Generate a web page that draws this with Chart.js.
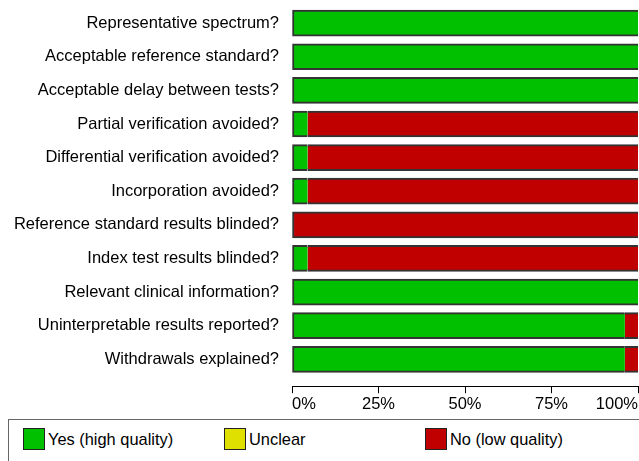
<!DOCTYPE html>
<html lang="en">

<head>
    <meta charset="UTF-8">
    <title>Methodological quality graph</title>
    <script src="https://cdn.jsdelivr.net/npm/chart.js"></script>
    <style>
        body {
            margin: 0;
            background: #fff;
            overflow: hidden;
            font-family: "Liberation Sans", Arial, sans-serif;
        }

        .wrap {
            position: relative;
            width: 639px;
            height: 461px;
        }

        #qualityChart {
            position: absolute;
            left: 0;
            top: 0;
        }

        .legend {
            position: absolute;
            left: 8px;
            top: 419px;
            width: 660px;
            height: 60px;
            border: 1px solid #666;
            box-sizing: border-box;
        }

        .legend-item {
            position: absolute;
            top: 8px;
            display: flex;
            align-items: center;
            font-size: 16.4px;
            color: #000;
        }

        .legend-box {
            width: 20px;
            height: 20px;
            border: 1px solid #222;
            margin-right: 3px;
        }
    </style>
</head>

<body>
    <div class="wrap">
        <canvas id="qualityChart" width="639" height="419"></canvas>
        <div class="legend" id="legend"></div>
    </div>

    <script>
        const categories = [
            'Representative spectrum?',
            'Acceptable reference standard?',
            'Acceptable delay between tests?',
            'Partial verification avoided?',
            'Differential verification avoided?',
            'Incorporation avoided?',
            'Reference standard results blinded?',
            'Index test results blinded?',
            'Relevant clinical information?',
            'Uninterpretable results reported?',
            'Withdrawals explained?'
        ];
        const yesValues = [100, 100, 100, 4.5, 4.5, 4.5, 0, 4.5, 100, 96.2, 96.2];
        const unclearValues = [0, 0, 0, 0, 0, 0, 0, 0, 0, 0, 0];
        const noValues = [0, 0, 0, 95.5, 95.5, 95.5, 100, 95.5, 0, 3.8, 3.8];
        const xTicks = [0, 25, 50, 75, 100];

        const seriesNames = ['Yes (high quality)', 'Unclear', 'No (low quality)'];
        const seriesColors = ['#00c000', '#e0e000', '#c00000'];
        const legendLeft = [14, 215, 416];

        const allSeries = [yesValues, unclearValues, noValues];
        const font = { family: '"Liberation Sans", Arial, sans-serif', size: 16.5 };

        // outline the whole stacked bar, not each piece
        function barBorder(ctx) {
            const i = ctx.dataIndex, d = ctx.datasetIndex;
            if (!allSeries[d][i]) return 0;
            const first = allSeries.slice(0, d).every(s => !s[i]);
            return { top: 2, bottom: 2, left: first ? 2 : 0, right: 0 };
        }

        const datasets = allSeries.map((values, d) => ({
            label: seriesNames[d],
            // empty pieces are left out so they leave no sliver
            data: values.map((v, i) => ({ x: v === 0 ? null : v, y: i })),
            backgroundColor: seriesColors[d],
            borderColor: '#333',
            borderWidth: barBorder,
            borderSkipped: false,
            barThickness: 26,
            clip: false
        }));

        new Chart(document.getElementById('qualityChart').getContext('2d'), {
            type: 'bar',
            data: { datasets: datasets },
            options: {
                indexAxis: 'y',
                responsive: false,
                animation: false,
                layout: { padding: { top: 12, left: 0, right: 0, bottom: 4 } },
                plugins: {
                    legend: { display: false },
                    tooltip: { enabled: false }
                },
                scales: {
                    x: {
                        min: 0,
                        max: 100,
                        stacked: true,
                        border: { display: true, color: '#000', width: 1 },
                        grid: { drawOnChartArea: false, drawTicks: true, tickLength: 7, color: '#000' },
                        afterBuildTicks: s => { s.ticks = xTicks.map(v => ({ value: v })); },
                        ticks: {
                            align: 'inner',
                            padding: 1,
                            color: '#000',
                            font: font,
                            maxRotation: 0,
                            callback: v => v + '%'
                        }
                    },
                    y: {
                        type: 'linear',
                        reverse: true,
                        stacked: true,
                        offset: false,
                        min: -0.33,
                        max: 10.8,
                        border: { display: false },
                        // hidden grid, but its tick length keeps the labels off the bars
                        grid: { display: false, offset: false, drawTicks: true, tickLength: 13 },
                        afterBuildTicks: s => { s.ticks = categories.map((c, i) => ({ value: i })); },
                        afterFit: s => { s.width = 292; },
                        ticks: {
                            autoSkip: false,
                            padding: 0,
                            color: '#000',
                            font: font,
                            callback: v => categories[v]
                        }
                    }
                }
            }
        });

        const legend = document.getElementById('legend');
        seriesNames.forEach((name, d) => {
            const item = document.createElement('div');
            item.className = 'legend-item';
            item.style.left = legendLeft[d] + 'px';
            item.innerHTML = '<div class="legend-box" style="background:' + seriesColors[d] + '"></div>' + name;
            legend.appendChild(item);
        });
    </script>

</body>

</html>
